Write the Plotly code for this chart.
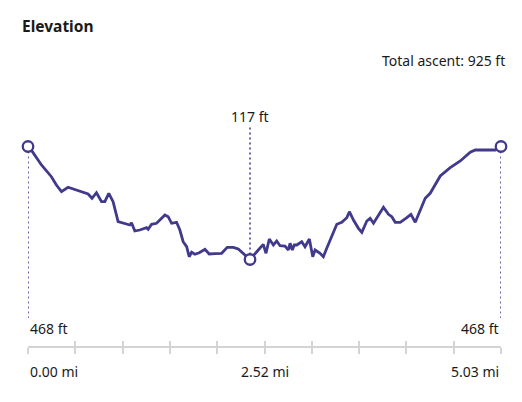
import plotly.graph_objects as go

# ---- data (miles, feet) ----
dist_mi = [0.000, 0.047, 0.143, 0.249, 0.302, 0.356, 0.426, 0.479, 0.551, 0.639,
           0.681, 0.728, 0.782, 0.817, 0.859, 0.905, 0.958, 1.048, 1.083, 1.101,
           1.136, 1.189, 1.261, 1.278, 1.314, 1.367, 1.456, 1.491, 1.527, 1.580,
           1.615, 1.650, 1.687, 1.714, 1.740, 1.775, 1.821, 1.882, 1.927, 1.988,
           2.059, 2.119, 2.183, 2.236, 2.289, 2.361, 2.449, 2.502, 2.531, 2.566,
           2.609, 2.645, 2.680, 2.733, 2.769, 2.787, 2.811, 2.832, 2.858, 2.911,
           2.946, 2.992, 3.028, 3.053, 3.106, 3.141, 3.177, 3.231, 3.284, 3.337,
           3.390, 3.418, 3.461, 3.514, 3.550, 3.603, 3.638, 3.674, 3.727, 3.780,
           3.833, 3.869, 3.905, 3.958, 4.029, 4.072, 4.118, 4.171, 4.224, 4.277,
           4.330, 4.384, 4.490, 4.597, 4.703, 4.756, 4.969, 5.030]
elev_ft = [468.0, 451.8, 410.5, 374.2, 348.4, 327.6, 341.3, 336.0, 327.6, 320.5,
           307.1, 324.5, 296.5, 296.5, 322.6, 296.5, 234.4, 227.3, 224.2, 231.3,
           205.5, 208.6, 215.8, 210.8, 226.4, 229.5, 255.2, 250.0, 229.5, 232.6,
           208.6, 172.3, 156.8, 125.7, 139.4, 133.2, 138.1, 148.7, 134.1, 135.0,
           136.3, 154.9, 154.9, 149.6, 136.3, 117.0, 146.5, 164.2, 136.3, 180.7,
           162.1, 174.5, 159.9, 159.0, 146.5, 167.3, 146.5, 162.1, 162.1, 172.3,
           156.8, 180.7, 125.7, 146.5, 136.3, 125.7, 151.8, 187.8, 226.4, 232.6,
           246.9, 265.5, 239.7, 213.9, 201.5, 236.6, 245.0, 229.5, 255.2, 279.2,
           257.4, 250.0, 232.6, 232.6, 246.9, 257.4, 232.6, 267.7, 307.1, 322.6,
           350.6, 376.4, 402.2, 423.0, 450.0, 457.1, 457.1, 468.0]

total_distance = 5.03
x_tick_labels = ["0.00 mi", "2.52 mi", "5.03 mi"]
start_label = "468 ft"
end_label = "468 ft"
min_label = "117 ft"
title_text = "Elevation"
ascent_text = "Total ascent: 925 ft"

# ---- styling ----
LINE = "#41398B"
DOT = "#6D64AC"
AXIS = "#D4D4D4"
TEXT = "#1A1A1A"
FONT = "Noto Sans"
FS = 14

W, H = 522, 402
ML, MR, MT, MB = 28, 21, 100, 56
plot_h = H - MT - MB
plot_w = W - ML - MR
Y_RANGE = [-151.6, 612.4]


def py(pix):  # pixel row -> paper y
    return (H - MB - pix) / plot_h


def yval(pix):  # pixel row -> data y
    return Y_RANGE[0] + py(pix) * (Y_RANGE[1] - Y_RANGE[0])


def px(pix):  # pixel column -> paper x
    return (pix - ML) / plot_w


i_min = min(range(len(elev_ft)), key=lambda i: elev_ft[i])
key_idx = [0, i_min, len(elev_ft) - 1]

fig = go.Figure()

# dotted guide lines
guides = [
    (dist_mi[0], elev_ft[0], yval(318)),
    (dist_mi[-1], elev_ft[-1], yval(318)),
    (dist_mi[i_min], elev_ft[i_min], yval(126)),
]
for gx, g0, g1 in guides:
    fig.add_trace(go.Scatter(x=[gx, gx], y=[g0, g1], mode="lines",
                             line=dict(color=DOT, width=2, dash="2px,3px"),
                             hoverinfo="skip", showlegend=False, cliponaxis=False))

fig.add_trace(go.Scatter(x=dist_mi, y=elev_ft, mode="lines",
                         line=dict(color=LINE, width=2.8, shape="linear"),
                         showlegend=False, cliponaxis=False))

fig.add_trace(go.Scatter(x=[dist_mi[i] for i in key_idx],
                         y=[elev_ft[i] for i in key_idx], mode="markers",
                         marker=dict(size=10.5, color="white",
                                     line=dict(color=LINE, width=2.3)),
                         showlegend=False, cliponaxis=False))

annots = []
# x tick labels
for xv, txt, anc in zip([0, total_distance / 2, total_distance], x_tick_labels,
                        ["left", "center", "right"]):
    annots.append(dict(x=xv, y=py(371), xref="x", yref="paper", text=txt,
                       showarrow=False, xanchor=anc, yanchor="middle",
                       font=dict(size=FS, color=TEXT, family=FONT)))
# elevation labels
annots.append(dict(x=dist_mi[0], y=py(328), xref="x", yref="paper", text=start_label,
                   showarrow=False, xanchor="left", yanchor="middle",
                   font=dict(size=FS, color=TEXT, family=FONT)))
annots.append(dict(x=dist_mi[-1], y=py(328), xref="x", yref="paper", text=end_label,
                   showarrow=False, xanchor="right", yanchor="middle",
                   font=dict(size=FS, color=TEXT, family=FONT)))
annots.append(dict(x=dist_mi[i_min], y=py(116), xref="x", yref="paper", text=min_label,
                   showarrow=False, xanchor="center", yanchor="middle",
                   font=dict(size=FS, color=TEXT, family=FONT)))
annots.append(dict(x=px(507), y=py(60), xref="paper", yref="paper", text=ascent_text,
                   showarrow=False, xanchor="right", yanchor="middle",
                   font=dict(size=FS, color=TEXT, family=FONT)))
annots.append(dict(x=px(20), y=py(26), xref="paper", yref="paper",
                   text="<b>" + title_text + "</b>",
                   showarrow=False, xanchor="left", yanchor="middle",
                   font=dict(size=15.5, color=TEXT, family=FONT)))

fig.update_layout(
    width=W, height=H,
    margin=dict(l=ML, r=MR, t=MT, b=MB, pad=0),
    paper_bgcolor="white", plot_bgcolor="white",
    annotations=annots,
    xaxis=dict(range=[0, total_distance], showgrid=False, zeroline=False,
               showline=True, linecolor=AXIS, linewidth=1.5,
               ticks="outside", tickmode="linear", tick0=0,
               dtick=total_distance / 10, ticklen=6, tickwidth=1.5,
               tickcolor=AXIS, showticklabels=False, fixedrange=True),
    xaxis2=dict(range=[0, total_distance], overlaying="x", anchor="y",
                side="bottom", showgrid=False, zeroline=False, showline=False,
                ticks="inside", tickmode="linear", tick0=0,
                dtick=total_distance / 10, ticklen=5, tickwidth=1.5,
                tickcolor=AXIS, showticklabels=False, fixedrange=True),
    yaxis=dict(range=Y_RANGE, visible=False, fixedrange=True),
    hovermode=False,
)
# dummy trace to activate xaxis2
fig.add_trace(go.Scatter(x=[0], y=[Y_RANGE[0]], xaxis="x2", mode="markers",
                         marker=dict(opacity=0), showlegend=False,
                         hoverinfo="skip"))

fig.write_html("out.html", config={"displayModeBar": False})
